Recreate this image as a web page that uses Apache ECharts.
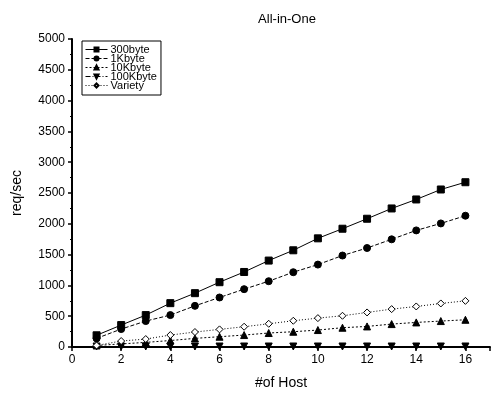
<!DOCTYPE html>
<html>
<head>
<meta charset="utf-8">
<script src="https://cdn.jsdelivr.net/npm/echarts@6/dist/echarts.min.js"></script>
<style>
  html, body { margin: 0; padding: 0; background: #fff; }
  #chart { width: 496px; height: 395px; }
</style>
</head>
<body>
<div id="chart"></div>
<script>
// 横轴：主机数
var hosts = [1, 2, 3, 4, 5, 6, 7, 8, 9, 10, 11, 12, 13, 14, 15, 16];

// 各类请求的吞吐量（req/sec）
var byte300 = [190, 356, 518, 712, 874, 1052, 1218, 1403, 1570, 1764, 1920, 2082, 2249, 2395, 2557, 2675];
var kbyte1 = [140, 291, 421, 518, 668, 804, 939, 1068, 1214, 1338, 1485, 1607, 1748, 1893, 2006, 2131];
var kbyte10 = [25, 50, 75, 105, 140, 167, 194, 227, 248, 275, 313, 334, 372, 399, 421, 442];
var kbyte100 = [8, 8, 8, 8, 8, 8, 8, 8, 8, 8, 8, 8, 8, 8, 8, 8];
var variety = [25, 97, 129, 194, 243, 286, 329, 377, 426, 469, 507, 561, 615, 658, 707, 749];

var seriesNames = ['300byte', '1Kbyte', '10Kbyte', '100Kbyte', 'Variety'];

function pairs(ys) {
  var out = [];
  for (var i = 0; i < hosts.length; i++) {
    out.push([hosts[i], ys[i]]);
  }
  return out;
}

var font = 'Liberation Sans, Arial, sans-serif';
var chart = echarts.init(document.getElementById('chart'), null, { renderer: 'canvas' });

/* 每条线的样式：线型 + 标记 */
function makeSeries(name, ys, lineType, symbol, rotate, hollow) {
  return {
    name: name,
    type: 'line',
    data: pairs(ys),
    symbol: symbol,
    symbolSize: 7,
    symbolRotate: rotate,
    showAllSymbol: true,
    lineStyle: { color: '#000', width: 1, type: lineType },
    itemStyle: {
      color: hollow ? '#fff' : '#000',
      borderColor: '#000',
      borderWidth: 1
    },
    emphasis: { disabled: true },
    animation: false
  };
}

chart.setOption({
  backgroundColor: '#fff',
  title: {
    text: 'All-in-One',
    left: 282,
    top: 8,
    textAlign: 'center',
    textStyle: { fontFamily: font, fontSize: 13, fontWeight: 'normal', color: '#000' }
  },
  legend: {
    data: seriesNames,
    orient: 'vertical',
    left: 82,
    top: 41,
    itemWidth: 22,
    itemHeight: 5,
    itemGap: -2,
    padding: [3, 4, 4, 3],
    borderColor: '#000',
    borderWidth: 1,
    lineStyle: { width: 1 },
    textStyle: { fontFamily: font, fontSize: 11, lineHeight: 9, color: '#000', padding: [0, 0, 0, -2] }
  },
  grid: { left: 72, top: 39, right: 6, bottom: 47 },
  xAxis: {
    type: 'value',
    min: 0,
    max: 17,
    interval: 2,
    name: '#of Host',
    nameLocation: 'middle',
    nameGap: 29,
    nameTextStyle: { fontFamily: font, fontSize: 14, color: '#000' },
    axisLine: { lineStyle: { color: '#000', width: 2 } },
    axisTick: { show: true, length: 4, lineStyle: { color: '#000', width: 1.5 } },
    minorTick: { show: true, splitNumber: 2, length: 2, lineStyle: { color: '#000' } },
    axisLabel: {
      fontFamily: font, fontSize: 12, color: '#000', margin: 7, showMaxLabel: false,
      formatter: function (v) { return v > 16 ? '' : String(v); }
    },
    splitLine: { show: false }
  },
  yAxis: {
    type: 'value',
    min: 0,
    max: 5000,
    interval: 500,
    name: 'req/sec',
    nameLocation: 'middle',
    nameGap: 48,
    nameTextStyle: { fontFamily: font, fontSize: 14, color: '#000' },
    axisLine: { show: true, lineStyle: { color: '#000', width: 2 } },
    axisTick: { show: true, length: 4, lineStyle: { color: '#000', width: 1.5 } },
    minorTick: { show: true, splitNumber: 2, length: 2, lineStyle: { color: '#000' } },
    axisLabel: {
      fontFamily: font, fontSize: 12, color: '#000', margin: 7,
      formatter: function (v) { return String(v); }
    },
    splitLine: { show: false }
  },
  series: [
    makeSeries('300byte', byte300, 'solid', 'rect', 0, false),
    makeSeries('1Kbyte', kbyte1, [4, 2], 'circle', 0, false),
    makeSeries('10Kbyte', kbyte10, [2, 2], 'triangle', 0, false),
    makeSeries('100Kbyte', kbyte100, [5, 2, 1, 2], 'triangle', 180, false),
    makeSeries('Variety', variety, [1, 2], 'diamond', 0, true)
  ]
});
</script>
</body>
</html>
